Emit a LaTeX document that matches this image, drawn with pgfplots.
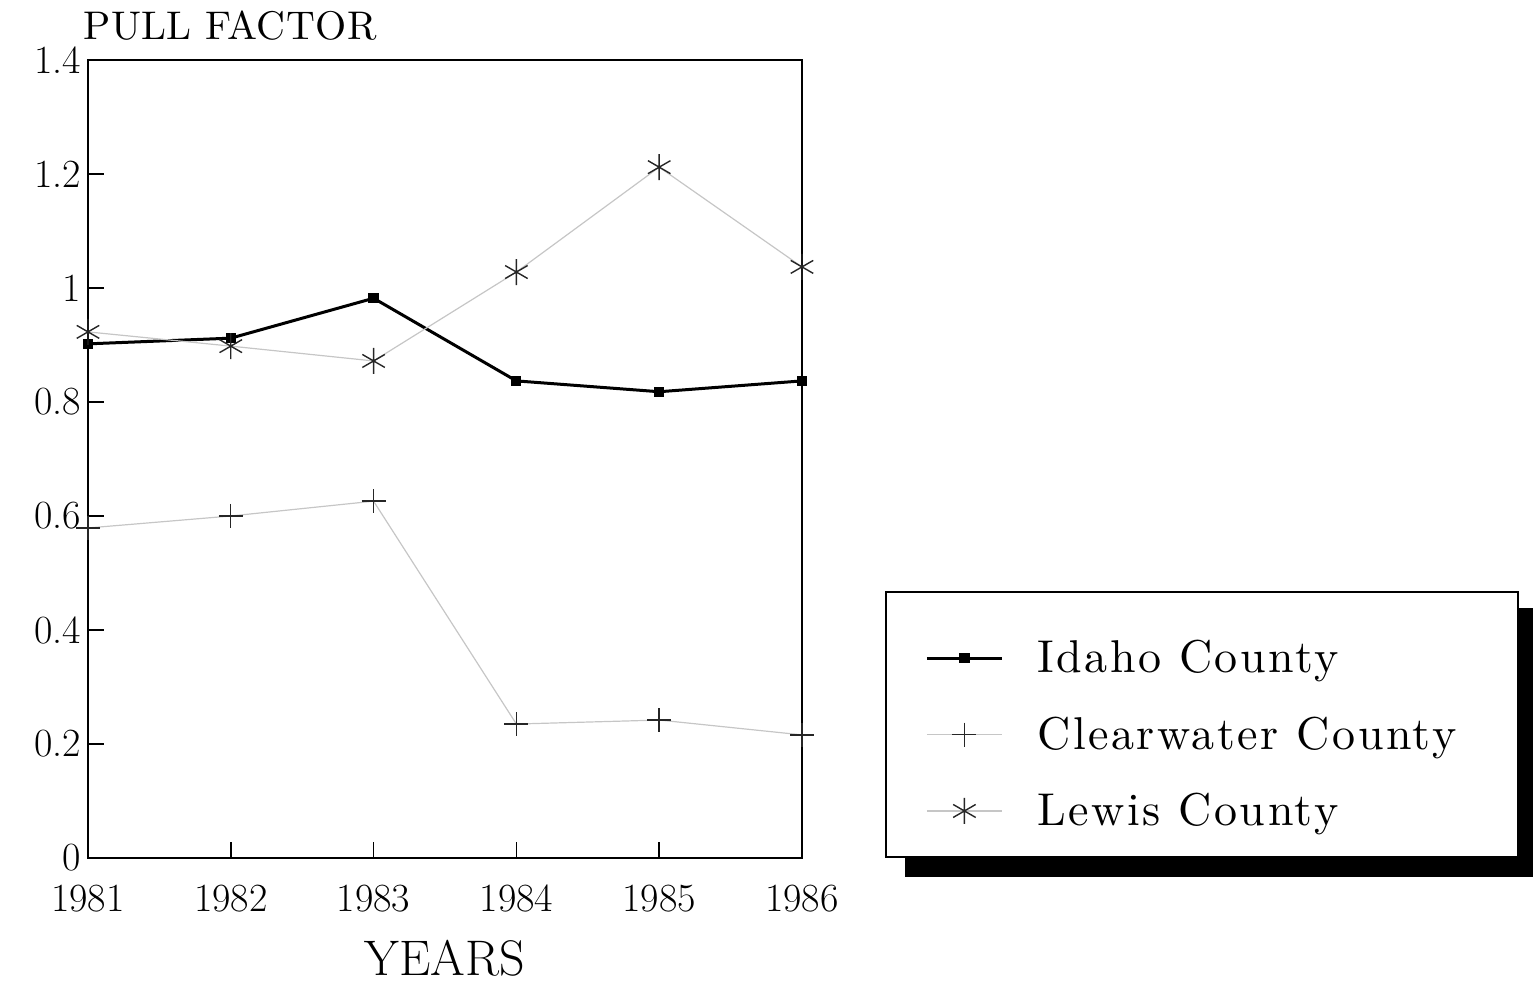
\documentclass[border=0pt]{standalone}
\usepackage{fontspec}
\newfontfamily\lsfont{lmroman10-regular.otf}[LetterSpace=5.5]
\newfontfamily\lsfontb{lmroman10-regular.otf}[LetterSpace=1]
\usepackage{pgfplots}
\pgfplotsset{compat=1.18}
\begin{document}
\begin{tikzpicture}[x=1pt,y=1pt]
\path[use as bounding box] (0,0) rectangle (766.5,493);
% legend frame with shadow
\fill[black] (452.5,54.5) rectangle (766.5,189);
\draw[line width=0.8pt, fill=white] (443,64.5) rectangle (759,197);
\begin{axis}[
  at={(44pt,64pt)}, anchor=south west, scale only axis,
  width=357pt, height=399pt,
  xmin=1981, xmax=1986, ymin=0, ymax=1.4,
  xtick={1981,1982,1983,1984,1985,1986},
  ytick={0,0.2,0.4,0.6,0.8,1.0,1.2,1.4},
  yticklabels={0,0.2,0.4,0.6,0.8,1,1.2,1.4},
  tick align=inside, xtick pos=bottom, ytick pos=left,
  major tick length=8pt,
  /pgf/number format/assume math mode=true,
  /pgf/number format/1000 sep={},
  ticklabel style={font=\fontsize{20}{24}\selectfont},
  x tick label style={yshift=-10pt},
  clip=false,
  axis line style={line width=0.8pt},
  tick style={line width=0.8pt, black},
  legend style={draw=none, fill=none, at={(1.1723,0.2782)}, anchor=north west,
    font=\lsfont\fontsize{23}{27}\selectfont, row sep=16.5pt, inner sep=0pt,
    column sep=0pt},
  legend cell align=left,
  legend image code/.code={\draw[mark repeat=2,mark phase=2,#1] plot coordinates {(0pt,0pt) (18.75pt,0pt) (37.5pt,0pt)};},
]
\addplot[black, line width=1.5pt, mark=square*, mark size=1.8pt] coordinates {
(1981,0.902) (1982,0.912) (1983,0.982) (1984,0.837) (1985,0.818) (1986,0.837)};
\addlegendentry{\hspace{15pt}Idaho County}
\addplot[gray!45, line width=0.6pt, mark=+, mark size=6pt, mark options={gray!30!black, line width=0.7pt}] coordinates {
(1981,0.579) (1982,0.600) (1983,0.626) (1984,0.235) (1985,0.242) (1986,0.216)};
\addlegendentry{\hspace{15pt}Clearwater County}
\addplot[gray!45, line width=0.6pt, mark=asterisk, mark size=6.5pt, mark options={gray!30!black, line width=0.7pt}] coordinates {
(1981,0.923) (1982,0.898) (1983,0.872) (1984,1.028) (1985,1.212) (1986,1.037)};
\addlegendentry{\hspace{15pt}Lewis County}
\end{axis}
\node[anchor=base west, inner sep=0pt, font=\lsfontb\fontsize{20}{24}\selectfont] at (41.5,473) {PULL FACTOR};
\node[anchor=base, inner sep=0pt, font=\fontsize{25}{30}\selectfont] at (222.5,5) {YEARS};
\end{tikzpicture}
\end{document}
